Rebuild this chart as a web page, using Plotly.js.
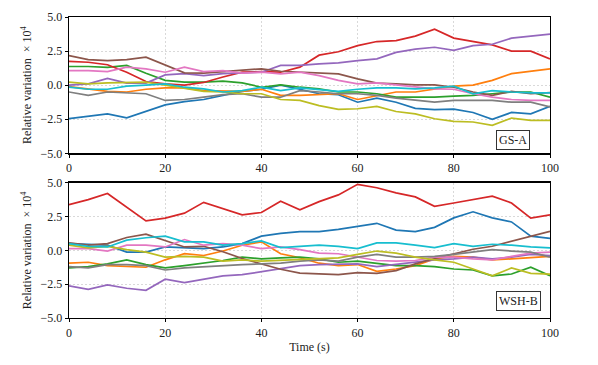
<!DOCTYPE html>
<html>
<head>
<meta charset="utf-8">
<script src="https://cdn.plot.ly/plotly-3.0.1.min.js"></script>
<style>
    body { margin: 0; background: #fff; }
    #graph { width: 598px; height: 365px; }
</style>
</head>
<body>
<div id="graph"></div>
<script>
const timeData = [0, 4, 8, 12, 16, 20, 24, 28, 32, 36, 40, 44, 48, 52, 56, 60, 64, 68, 72, 76, 80, 84, 88, 92, 96, 100];

// panel GS-A
const blueA = [-2.46, -2.3, -2.1, -2.4, -1.95, -1.45, -1.2, -1.05, -0.75, -0.45, -0.3, 0.0, -0.3, -0.63, -0.7, -1.25, -0.95, -1.25, -1.7, -1.8, -1.75, -2.0, -2.5, -2.0, -2.1, -1.55];
const orangeA = [-0.1, -0.3, -0.45, -0.5, -0.3, -0.2, -0.2, -0.4, -0.45, -0.45, -0.3, -0.75, -0.75, -0.7, -0.63, -1.05, -0.75, -0.5, -0.5, -0.3, -0.07, 0.0, 0.35, 0.85, 1.0, 1.2];
const greenA = [1.37, 1.37, 1.3, 1.45, 0.88, 0.35, 0.22, 0.22, 0.3, 0.17, -0.15, 0.02, -0.15, -0.27, -0.5, -0.5, -0.63, -0.88, -0.88, -0.88, -0.8, -0.75, -0.63, -0.5, -0.5, -0.88];
const redA = [1.75, 1.68, 1.5, 0.95, 0.27, 0.1, 0.0, 0.2, 0.6, 0.95, 1.0, 0.95, 1.32, 2.2, 2.45, 2.9, 3.2, 3.27, 3.6, 4.1, 3.45, 3.2, 2.95, 2.5, 2.5, 1.93];
const purpleA = [0.0, 0.1, 0.5, 0.15, 0.15, 0.75, 0.85, 0.7, 0.85, 0.9, 0.95, 1.45, 1.45, 1.56, 1.63, 1.8, 1.93, 2.4, 2.65, 2.78, 2.55, 2.9, 3.0, 3.45, 3.6, 3.75];
const brownA = [2.17, 1.88, 1.8, 1.88, 2.05, 1.5, 0.9, 0.88, 1.0, 1.07, 1.2, 1.02, 0.95, 0.88, 0.83, 0.46, 0.15, 0.1, 0.02, 0.02, -0.15, -0.5, -0.75, -0.45, -0.63, -0.55];
const pinkA = [1.07, 1.07, 1.0, 1.32, 1.2, 0.95, 1.32, 1.0, 1.07, 0.88, 0.95, 0.83, 0.95, 0.7, 0.35, 0.1, 0.17, 0.02, -0.15, -0.27, -0.3, -0.63, -0.88, -1.05, -1.12, -1.12];
const grayA = [-0.5, -0.75, -0.5, -0.56, -0.63, -1.12, -1.05, -0.88, -0.7, -0.63, -0.88, -0.88, -0.4, -0.5, -0.63, -0.63, -0.75, -0.95, -1.12, -1.25, -1.12, -1.12, -1.12, -1.25, -1.25, -1.6];
const oliveA = [0.22, 0.1, 0.17, 0.22, 0.22, 0.0, -0.2, -0.45, -0.5, -0.63, -0.63, -1.05, -1.12, -1.5, -1.78, -1.73, -1.56, -1.93, -2.1, -2.46, -2.66, -2.7, -2.95, -2.41, -2.58, -2.58];
const cyanA = [-0.15, -0.3, -0.3, -0.07, 0.0, 0.1, -0.15, -0.27, -0.5, -0.4, -0.15, -0.4, -0.2, -0.3, -0.45, -0.3, -0.2, -0.2, -0.27, -0.2, -0.07, -0.63, -0.4, -0.5, -0.56, -0.56];

// panel WSH-B
const blueB = [0.5, 0.43, 0.38, -0.13, -0.13, 0.25, 0.18, 0.13, 0.25, 0.5, 1.05, 1.25, 1.38, 1.38, 1.55, 1.75, 2.0, 1.5, 1.38, 1.7, 2.4, 2.85, 2.4, 2.1, 1.05, 0.89];
const orangeB = [-0.95, -0.88, -1.13, -1.2, -1.25, -0.7, -0.25, -0.38, -0.05, 0.38, 0.63, -0.25, -0.55, -0.95, -1.13, -1.05, -1.55, -1.38, -1.13, -0.63, -0.45, -0.5, -0.7, -0.63, -0.55, -0.45];
const greenB = [-1.3, -1.2, -1.0, -0.7, -1.05, -1.3, -1.13, -0.95, -0.75, -0.5, -0.63, -0.55, -0.5, -0.63, -0.88, -0.8, -0.95, -1.13, -1.13, -1.2, -1.38, -1.45, -1.88, -1.75, -1.25, -1.88];
const redB = [3.38, 3.75, 4.2, 3.2, 2.18, 2.38, 2.75, 3.55, 3.1, 2.63, 2.8, 3.63, 3.0, 3.6, 4.1, 4.88, 4.63, 4.25, 3.95, 3.25, 3.5, 3.75, 4.0, 3.5, 2.38, 2.63];
const purpleB = [-2.63, -2.88, -2.55, -2.8, -2.95, -2.13, -2.38, -2.13, -1.88, -1.8, -1.58, -1.38, -1.13, -1.05, -1.05, -1.0, -1.2, -1.05, -0.88, -0.7, -0.63, -0.5, -0.63, -0.5, -0.3, -0.38];
const brownB = [0.55, 0.38, 0.5, 0.95, 1.2, 0.75, 0.25, 0.3, -0.1, -0.6, -1.0, -1.4, -1.68, -1.75, -1.8, -1.65, -1.7, -1.5, -1.0, -0.6, -0.25, 0.08, 0.3, 0.65, 1.0, 1.4];
const pinkB = [0.13, 0.13, -0.05, 0.38, 0.38, 0.25, 0.8, 0.38, 0.5, 0.38, 0.13, 0.25, 0.05, -0.2, -0.25, -0.5, -0.75, -0.8, -0.75, -0.5, -0.5, -0.63, -0.7, -0.45, -0.2, -0.13];
const grayB = [-1.2, -1.3, -1.05, -1.05, -1.13, -1.45, -1.3, -1.2, -1.13, -1.05, -1.0, -0.95, -0.8, -0.7, -0.8, -0.5, -0.3, -0.5, -0.5, -0.45, -0.3, -0.13, 0.05, -0.05, -0.13, -0.5];
const oliveB = [0.38, 0.18, 0.3, 0.05, -0.13, -0.5, -0.45, -0.5, -0.8, -0.7, -0.8, -0.75, -0.7, -0.63, -0.55, -0.3, -0.05, -0.2, -0.5, -0.7, -0.88, -1.38, -1.88, -1.3, -1.7, -1.75];
const cyanB = [0.5, 0.3, 0.25, 0.75, 0.93, 1.05, 0.63, 0.63, 0.38, 0.5, 0.7, 0.2, 0.3, 0.38, 0.3, 0.13, 0.55, 0.55, 0.38, 0.2, 0.5, 0.3, 0.45, 0.38, 0.25, 0.18];

const colors = ['#1f77b4', '#ff7f0e', '#2ca02c', '#d62728', '#9467bd', '#8c564b', '#e377c2', '#7f7f7f', '#bcbd22', '#17becf'];
const panelA = [blueA, orangeA, greenA, redA, purpleA, brownA, pinkA, grayA, oliveA, cyanA];
const panelB = [blueB, orangeB, greenB, redB, purpleB, brownB, pinkB, grayB, oliveB, cyanB];

const fontFamily = '"Liberation Serif", "DejaVu Serif", serif';

function makeTraces(series, xaxis, yaxis) {
    return series.map((ys, i) => ({
        x: timeData,
        y: ys,
        mode: 'lines',
        type: 'scatter',
        xaxis: xaxis,
        yaxis: yaxis,
        line: {color: colors[i], width: 1.7},
        showlegend: false,
        hoverinfo: 'skip'
    }));
}

function xAxisStyle(anchor) {
    return {
        anchor: anchor,
        domain: [0, 1],
        range: [0, 100],
        tickvals: [0, 20, 40, 60, 80, 100],
        showgrid: true,
        gridcolor: '#cfcfcf',
        griddash: '2px,2px',
        gridwidth: 0.8,
        zeroline: false,
        showline: true,
        mirror: true,
        linecolor: '#000',
        linewidth: 1.3,
        ticks: 'outside',
        ticklen: 3,
        tickcolor: '#000',
        tickfont: {family: fontFamily, size: 12, color: '#222'}
    };
}

function yAxisStyle(anchor, domain) {
    return {
        anchor: anchor,
        domain: domain,
        range: [-5, 5],
        tickvals: [-5, -2.5, 0, 2.5, 5],
        tickformat: '.1f',
        showgrid: true,
        gridcolor: '#cfcfcf',
        griddash: '2px,2px',
        gridwidth: 0.8,
        zeroline: false,
        showline: true,
        mirror: true,
        linecolor: '#000',
        linewidth: 1.3,
        ticks: 'outside',
        ticklen: 3,
        tickcolor: '#000',
        tickfont: {family: fontFamily, size: 12, color: '#222'},
        title: {
            text: 'Relative variation  × 10<sup>4</sup>',
            standoff: 6,
            font: {family: fontFamily, size: 12, color: '#222'}
        }
    };
}

function drawChart() {
    const data = makeTraces(panelA, 'x', 'y').concat(makeTraces(panelB, 'x2', 'y2'));

    const boxStyle = {
        xanchor: 'left',
        yanchor: 'middle',
        showarrow: false,
        bgcolor: '#fff',
        bordercolor: '#333',
        borderwidth: 1,
        borderpad: 2,
        font: {family: fontFamily, size: 12, color: '#222'}
    };

    const xBottom = xAxisStyle('y2');
    xBottom.title = {text: 'Time (s)', standoff: 4, font: {family: fontFamily, size: 12, color: '#222'}};

    const layout = {
        width: 598,
        height: 365,
        paper_bgcolor: '#fff',
        plot_bgcolor: '#fff',
        font: {family: fontFamily, size: 12, color: '#222'},
        margin: {l: 69, r: 48, t: 17, b: 47},
        xaxis: xAxisStyle('y'),
        yaxis: yAxisStyle('x', [0.547, 1]),
        xaxis2: xBottom,
        yaxis2: yAxisStyle('x2', [0, 0.4495]),
        annotations: [
            Object.assign({text: 'GS-A', xref: 'x', yref: 'y', x: 88.7, y: -4.03}, boxStyle),
            Object.assign({text: 'WSH-B', xref: 'x2', yref: 'y2', x: 88.7, y: -3.77}, boxStyle)
        ]
    };

    Plotly.newPlot('graph', data, layout, {displayModeBar: false, staticPlot: true});
}

drawChart();
</script>
</body>
</html>
